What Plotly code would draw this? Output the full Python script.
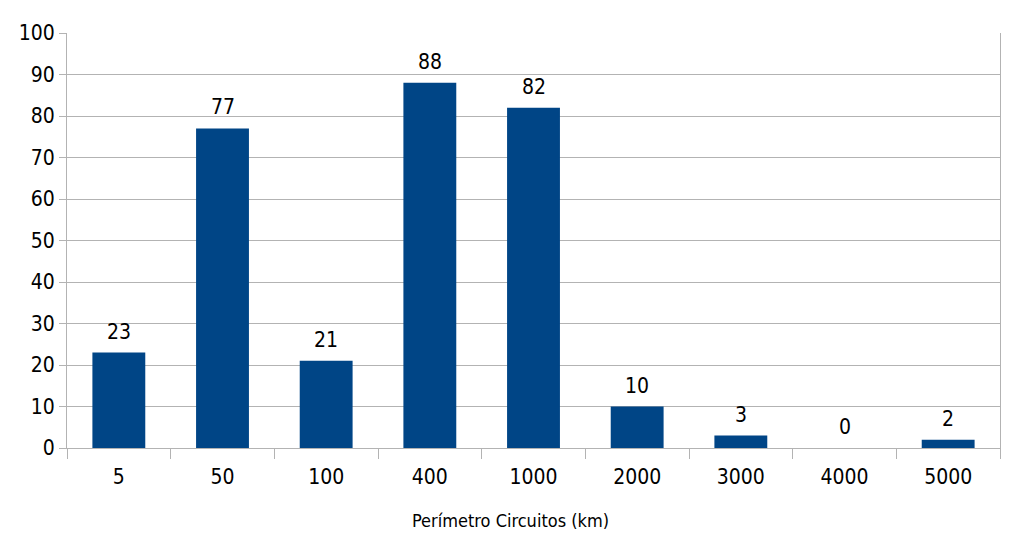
import plotly.graph_objects as go

categories = ["5", "50", "100", "400", "1000", "2000", "3000", "4000", "5000"]
values = [23, 77, 21, 88, 82, 10, 3, 0, 2]
y_ticks = list(range(0, 101, 10))
x_title = "Perímetro Circuitos (km)"

FONT = "Liberation Sans Narrow, DejaVu Sans Condensed, Arial Narrow, sans-serif"
GRID = "#b3b3b3"

fig = go.Figure(
    go.Bar(
        x=categories,
        y=values,
        marker=dict(color="#004586", line=dict(width=0)),
        width=0.51,
        hoverinfo="x+y",
    )
)

for i, v in enumerate(values):
    fig.add_annotation(
        x=i, y=v, xref="x", yref="y", text=str(v), showarrow=False,
        yanchor="bottom", yshift=7,
        font=dict(family=FONT, size=21, color="#000000"),
    )

# axis title (placed slightly left of centre, as in the reference)
fig.add_annotation(
    x=0.475, y=-0.174, xref="paper", yref="paper", text=x_title, showarrow=False,
    xanchor="center", yanchor="middle",
    font=dict(family=FONT, size=18, color="#000000"),
)

fig.update_layout(
    width=1024,
    height=558,
    margin=dict(l=67, r=24, t=33, b=110),
    paper_bgcolor="white",
    plot_bgcolor="white",
    showlegend=False,
    font=dict(family=FONT, size=21, color="#000000"),
    xaxis=dict(
        type="category",
        categoryorder="array",
        categoryarray=categories,
        range=[-0.5, 8.5],
        showgrid=False,
        ticks="outside",
        tickson="boundaries",
        ticklen=10,
        tickcolor=GRID,
        tickwidth=1,
        showline=True,
        linecolor=GRID,
        linewidth=1,
        ticklabelstandoff=10,
        tickfont=dict(family=FONT, size=21, color="#000000"),
        zeroline=False,
    ),
    yaxis=dict(
        range=[0, 100],
        tickvals=y_ticks,
        showgrid=True,
        gridcolor=GRID,
        gridwidth=1,
        ticks="outside",
        ticklen=7,
        tickcolor=GRID,
        showline=True,
        linecolor=GRID,
        linewidth=1,
        mirror=True,
        zeroline=False,
        tickfont=dict(family=FONT, size=21, color="#000000"),
    ),
)

fig.write_html("out.html")
